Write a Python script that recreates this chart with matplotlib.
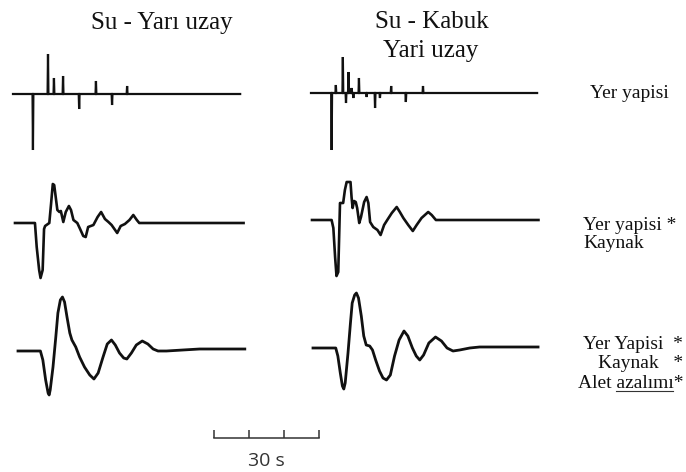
import matplotlib
matplotlib.use('Agg')
import matplotlib.pyplot as plt
from matplotlib.lines import Line2D

# ---------------- data ----------------
col_titles = ["Su - Yarı uzay", "Su - Kabuk\nYari uzay"]
row_labels = ["Yer yapisi",
              "Yer yapisi *\nKaynak",
              "Yer Yapisi  *\nKaynak   *\nAlet azalımı*"]

# Row 1: impulse responses (spike times in s, amplitudes)
tl_spike_t = [5.7, 10.0, 11.7, 14.3, 18.9, 23.7, 28.3, 32.6]
tl_spike_a = [-56, 40, 16, 18, -15, 13, -11, 8]
tl_end = 64.9

tr_spike_t = [5.9, 7.1, 9.1, 10.0, 10.7, 11.6, 12.1, 13.7, 15.9, 18.3, 19.7, 22.9, 27.1, 32.0]
tr_spike_a = [-57, 8, 36, -10, 21, 5, -5, 15, -4, -15, -5, 7, -9, 7]
tr_end = 64.6

# Row 2: structure * source
ml_t = [0, 5.7, 6.2, 6.9, 7.3, 7.9, 8.3, 8.6, 9.8, 10.3, 10.8, 11.2, 12.1, 12.7, 13.1,
        13.8, 14.5, 15.4, 16.0, 16.7, 17.8, 18.6, 19.5, 20.2, 20.9, 22.4, 23.6, 24.6,
        25.7, 26.7, 27.6, 28.6, 29.2, 30.2, 31.4, 32.7, 33.8, 34.8, 35.5, 65.3]
ml_a = [0, 0, -24, -47, -55, -47, -6, -3, 0, 19, 39, 38, 13, 11, 12,
        1, 11, 17, 13, 3, 0, -6, -13, -14, -4, -2, 6, 11,
        4, 1, -2, -7, -10, -3, -1, 3, 8, 3, 0, 0]

mr_t = [0, 5.6, 6.1, 6.6, 7.0, 7.5, 8.0, 8.9, 9.4, 9.9, 11.0, 11.3, 11.6, 12.0, 12.5,
        12.9, 13.5, 14.0, 14.9, 15.6, 16.1, 16.6, 17.5, 18.7, 19.6, 20.6, 21.5, 22.8,
        24.2, 25.1, 26.1, 27.5, 28.8, 29.9, 31.3, 33.2, 34.2, 35.4, 64.7]
mr_a = [0, 0, -8, -37, -56, -52, 17, 17, 30, 38, 38, 23, 12, 19, 18,
        12, -3, 3, 18, 23, 17, -2, -7, -10, -15, -5, 0, 7,
        13, 8, 2, -5, -11, -5, 2, 8, 5, 0, 0]

# Row 3: structure * source * instrument
bl_t = [0, 6.4, 7.1, 7.9, 8.6, 8.9, 9.2, 10.0, 10.8, 11.4, 12.1, 12.7, 13.3, 14.0,
        14.8, 15.4, 16.5, 17.6, 19.0, 20.5, 21.7, 22.9, 24.3, 25.5, 26.7, 27.8, 29.0,
        30.2, 31.1, 32.4, 33.8, 35.5, 37.1, 38.6, 40.0, 42.4, 47.1, 51.9, 64.8]
bl_a = [0, 0, -9, -29, -42, -44, -39, -16, 14, 38, 51, 54, 49, 34,
        18, 11, 4, -6, -16, -24, -28, -22, -6, 7, 11, 6, -2,
        -7, -8, -2, 6, 10, 7, 2, 0, 0, 1, 2, 2]

br_t = [0, 6.5, 7.1, 7.8, 8.4, 8.8, 9.2, 10.0, 10.7, 11.2, 11.9, 12.4, 13.0, 13.8,
        14.5, 15.2, 16.2, 17.0, 17.9, 19.0, 20.0, 21.0, 22.1, 23.3, 24.6, 26.0, 27.1,
        28.4, 29.5, 30.5, 31.6, 33.1, 35.0, 36.7, 38.3, 40.0, 41.9, 44.8, 47.6, 53.3, 64.3]
br_a = [0, 0, -8, -25, -38, -41, -35, -5, 25, 45, 53, 55, 50, 32,
        12, 3, 2, -2, -12, -23, -30, -32, -27, -8, 8, 17, 12,
        0, -8, -12, -7, 5, 11, 7, 0, -3, -2, 0, 1, 1, 1]

scale_ticks = [0, 10, 20, 30]
scale_label = "30 s"

# ---------------- layout ----------------
W, H = 686, 472
PX_PER_S = 3.5
fig = plt.figure(figsize=(W / 100, H / 100), dpi=100)
fig.patch.set_facecolor('white')

INK = '#111111'


def spikes_to_line(times, amps, end, w=0.12):
    xs, ys = [0.0], [0.0]
    for t, a in zip(times, amps):
        xs += [t - w, t, t + w]
        ys += [0.0, a, 0.0]
    xs.append(end)
    ys.append(0.0)
    return xs, ys


def trace_axes(x0, yb, span=66):
    ax = fig.add_axes([x0 / W, (H - yb - 60) / H, span * PX_PER_S / W, 120 / H])
    ax.set_xlim(0, span)
    ax.set_ylim(-60, 60)
    ax.axis('off')
    return ax


# (left px, baseline px) per trace
pos = {'tl': (13, 94), 'tr': (311, 93),
       'ml': (15, 223), 'mr': (312, 220),
       'bl': (18, 351), 'br': (313, 348)}

ax = trace_axes(*pos['tl'])
x, y = spikes_to_line(tl_spike_t, tl_spike_a, tl_end)
ax.plot(x, y, color=INK, lw=1.6, clip_on=False, solid_joinstyle='miter')

ax = trace_axes(*pos['tr'])
x, y = spikes_to_line(tr_spike_t, tr_spike_a, tr_end)
ax.plot(x, y, color=INK, lw=1.6, clip_on=False, solid_joinstyle='miter')

ax = trace_axes(*pos['ml'])
ax.plot(ml_t, ml_a, color=INK, lw=1.9, clip_on=False, solid_joinstyle='round')
ax = trace_axes(*pos['mr'])
ax.plot(mr_t, mr_a, color=INK, lw=1.9, clip_on=False, solid_joinstyle='round')

ax = trace_axes(*pos['bl'])
ax.plot(bl_t, bl_a, color=INK, lw=2.0, clip_on=False, solid_joinstyle='round')
ax = trace_axes(*pos['br'])
ax.plot(br_t, br_a, color=INK, lw=2.0, clip_on=False, solid_joinstyle='round')

# scale bar
sax = fig.add_axes([214 / W, (H - 438 - 40) / H, 30 * PX_PER_S / W, 80 / H])
sax.set_xlim(0, 30)
sax.set_ylim(-40, 40)
sax.axis('off')
sax.plot([scale_ticks[0], scale_ticks[-1]], [0, 0], color='#333333', lw=1.1, clip_on=False)
sax.vlines(scale_ticks, 0, 8, color='#333333', lw=1.1, clip_on=False)
sax.text(15, -28, scale_label, ha='center', va='baseline', fontsize=14,
         family=['Open Sans', 'DejaVu Sans'], color='#333333')

# titles
serif = ['Liberation Serif', 'DejaVu Serif']
t1, t2 = col_titles[1].split('\n')
fig.text(162 / W, 1 - 29 / H, col_titles[0], ha='center', va='baseline', fontsize=18, family=serif, color=INK)
fig.text(432 / W, 1 - 28 / H, t1, ha='center', va='baseline', fontsize=18, family=serif, color=INK)
fig.text(431 / W, 1 - 57 / H, t2, ha='center', va='baseline', fontsize=18, family=serif, color=INK)

# row labels
fig.text(629 / W, 1 - 98 / H, row_labels[0], ha='center', va='baseline', fontsize=14, family=serif, color=INK)
r2 = row_labels[1].split('\n')
fig.text(583 / W, 1 - 230 / H, r2[0], ha='left', va='baseline', fontsize=14, family=serif, color=INK)
fig.text(583 / W, 1 - 248 / H, r2[1], ha='left', va='baseline', fontsize=14, family=serif, color=INK)
r3 = row_labels[2].split('\n')
base3 = [349, 368, 388]
texts3 = []
for s, b in zip(r3, base3):
    texts3.append(fig.text(683 / W, 1 - b / H, s, ha='right', va='baseline', fontsize=14,
                           family=serif, color=INK))

# underline the word "azalımı"
fig.canvas.draw()
rend = fig.canvas.get_renderer()
last = texts3[-1]
full_bb = last.get_window_extent(rend)
tmp1 = fig.text(0, 0, 'azalımı*', fontsize=14, family=serif)
tmp2 = fig.text(0, 0, '*', fontsize=14, family=serif)
w1 = tmp1.get_window_extent(rend).width
w2 = tmp2.get_window_extent(rend).width
tmp1.remove()
tmp2.remove()
x_right = full_bb.x1
ux0 = (x_right - w1) / W
ux1 = (x_right - w2) / W
uy = 1 - (388 + 2.5) / H
fig.add_artist(Line2D([ux0, ux1], [uy, uy], transform=fig.transFigure, color='#333333', lw=0.8))

fig.savefig('out.png', dpi=100, facecolor='white')
